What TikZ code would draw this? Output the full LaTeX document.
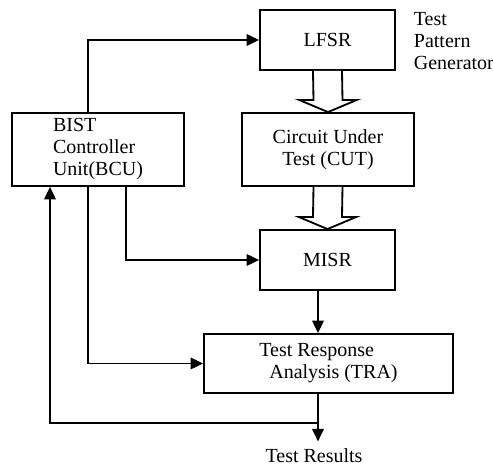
\documentclass[tikz,border=0pt]{standalone}
\usepackage{fontspec}
\setmainfont{Liberation Serif}
\usetikzlibrary{arrows.meta, calc}

% wide open arrow between two stacked blocks
\newcommand{\hollowarrow}[2]{%
  \draw[bus] ($(#1.south)+(-14.5,0)$) -- ($(#2.north)+(-14.5,-12)$)
    -- ($(#2.north)+(-28.5,-12)$) -- (#2.north) -- ($(#2.north)+(28.5,-12)$)
    -- ($(#2.north)+(14.5,-12)$) -- ($(#1.south)+(14.5,0)$);}

\begin{document}
\begin{tikzpicture}[x=0.6pt, y=-0.6pt, font=\fontsize{12}{13.2}\selectfont,
  block/.style={draw, line width=1.1pt, inner sep=0pt, align=center},
  flow/.style={line width=0.9pt, -{Triangle[length=7.5pt, width=7pt]}},
  bus/.style={line width=1.1pt, fill=white, line join=miter}]

  \useasboundingbox (0,0) rectangle (493,468);

  % Blocks
  \node[block, minimum width=81pt, minimum height=36pt] (lfsr) at (327.5,40) {LFSR};
  \node[block, minimum width=103.2pt, minimum height=43.8pt] (cut) at (328,149.5) {Circuit Under\\Test (CUT)};
  \node[block, minimum width=103.2pt, minimum height=43.8pt, align=left] (bcu) at (98,149.5) {BIST\\Controller\\Unit(BCU)};
  \node[block, minimum width=81pt, minimum height=36pt] (misr) at (327.5,260) {MISR};
  \node[block, minimum width=149.4pt, minimum height=35.4pt, align=left] (tra) at (328.5,363.5) {Test Response\\\hspace*{6pt}Analysis (TRA)};

  % Labels
  \node[anchor=west, align=left] (tpg) at (408,41) {Test\\Pattern\\Generator};
  \node (res) at (314,456) {Test Results};

  % Data path
  \hollowarrow{lfsr}{cut}
  \hollowarrow{cut}{misr}
  \coordinate (col) at (318,0);
  \draw[flow] (misr.south -| col) -- (tra.north -| col);
  \draw[flow, shorten >=1pt] (tra.south -| col) -- (res.north -| col);

  % Control lines from the BCU
  \draw[flow] ($(bcu.north)+(-10,0)$) |- (lfsr.west);
  \draw[flow] ($(bcu.south)+(28,0)$) |- (misr.west);
  \draw[flow] ($(bcu.south)+(-10,0)$) |- (tra.west);

  % Feedback of the results
  \coordinate (tap) at (318,423);
  \draw[flow] (tap) -| ($(bcu.south)+(-48,0)$);
\end{tikzpicture}
\end{document}
